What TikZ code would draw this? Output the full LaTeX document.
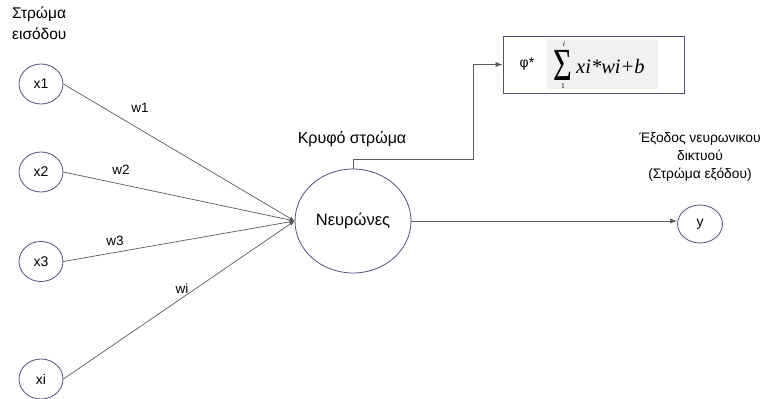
\documentclass[tikz,border=0pt]{standalone}
\usepackage{fontspec}
\usepackage{graphicx}
\setmainfont{Liberation Sans}
\newfontfamily\serifgr{Liberation Serif}
\usetikzlibrary{shapes.geometric,arrows.meta}
\definecolor{circ}{RGB}{78,82,118}
\definecolor{lin}{RGB}{90,90,90}
\definecolor{fbg}{RGB}{240,241,243}
\begin{document}
\begin{tikzpicture}[x=1pt,y=-1pt,
  lbl/.style={font=\fontsize{13.5}{15}\selectfont, inner sep=0pt},
  inp/.style={ellipse, draw=circ, line width=0.8pt, minimum width=44pt, minimum height=40pt, inner sep=0pt, font=\fontsize{14}{15}\selectfont},
  conn/.style={draw=lin, line width=0.7pt},
  tip/.style={-{Latex[length=7pt,width=5pt]}},
  smalltip/.style={-{Latex[length=5pt,width=4pt]}}]
\useasboundingbox (0,0) rectangle (777,399);
% layer label
\node[lbl, align=left, anchor=north west, font=\fontsize{15.5}{21}\selectfont] (lin) at (12,7) {Στρώμα\\εισόδου};
% inputs
\node[inp] (x1) at (41,84) {x1};
\node[inp] (x2) at (41,172) {x2};
\node[inp] (x3) at (41,261.5) {x3};
\node[inp] (xi) at (41,379) {xi};
% neuron
\node[ellipse, draw=circ, line width=0.8pt, minimum width=116pt, minimum height=104pt, inner sep=0pt, font=\fontsize{16.5}{18}\selectfont] (n) at (353,221) {Νευρώνες};
\node[lbl, font=\fontsize{16}{18}\selectfont] (hid) at (352,139) {Κρυφό στρώμα};
% weights
\draw[conn, smalltip] (x1.east) -- (n.west);
\draw[conn, smalltip] (x2.east) -- (n.west);
\draw[conn, smalltip] (x3.east) -- (n.west);
\draw[conn, smalltip] (xi.east) -- (n.west);
\node[lbl] (w1) at (140,108) {w1};
\node[lbl] (w2) at (121,170) {w2};
\node[lbl] (w3) at (115,241) {w3};
\node[lbl] (wi) at (182,289) {wi};
% formula box
\node[draw=circ, line width=0.8pt, minimum width=181pt, minimum height=57pt, inner sep=0pt] (box) at (593.5,64.5) {};
\fill[fbg] (547,39) rectangle (658,89);
\node[lbl, font=\fontsize{14}{16}\selectfont] (phi) at (527,64) {φ*};
\node[inner sep=0pt, anchor=base, text height=30pt, text depth=0pt, font=\serifgr\fontsize{46}{46}\selectfont] (sig) at (563,80) {\scalebox{0.7}[1]{Σ}};
\node[inner sep=0pt, anchor=base, text height=5pt, text depth=0pt, font=\serifgr\itshape\fontsize{8}{8}\selectfont] (up) at (564,46) {i};
\node[inner sep=0pt, anchor=base, text height=5pt, text depth=0pt, font=\serifgr\fontsize{7.5}{8}\selectfont] (lo) at (563,88) {1};
\node[inner sep=0pt, anchor=base west, font=\serifgr\itshape\fontsize{20.5}{22}\selectfont] (form) at (576,73) {xi*wi+b};
\coordinate (bend) at (473,159);
\draw[conn, tip] (n.north) |- (bend) |- (box.west);
% output
\node[ellipse, draw=circ, line width=0.8pt, minimum width=45pt, minimum height=38pt, inner sep=0pt, font=\fontsize{14}{15}\selectfont] (y) at (700,224) {y};
\draw[conn, tip] (n.east) -- (n.east -| y.west);
\node[lbl, align=center, font=\fontsize{13.8}{18}\selectfont] (out) at (700,157) {Έξοδος νευρωνικου\\δικτυού\\(Στρώμα εξόδου)};
\end{tikzpicture}
\end{document}
